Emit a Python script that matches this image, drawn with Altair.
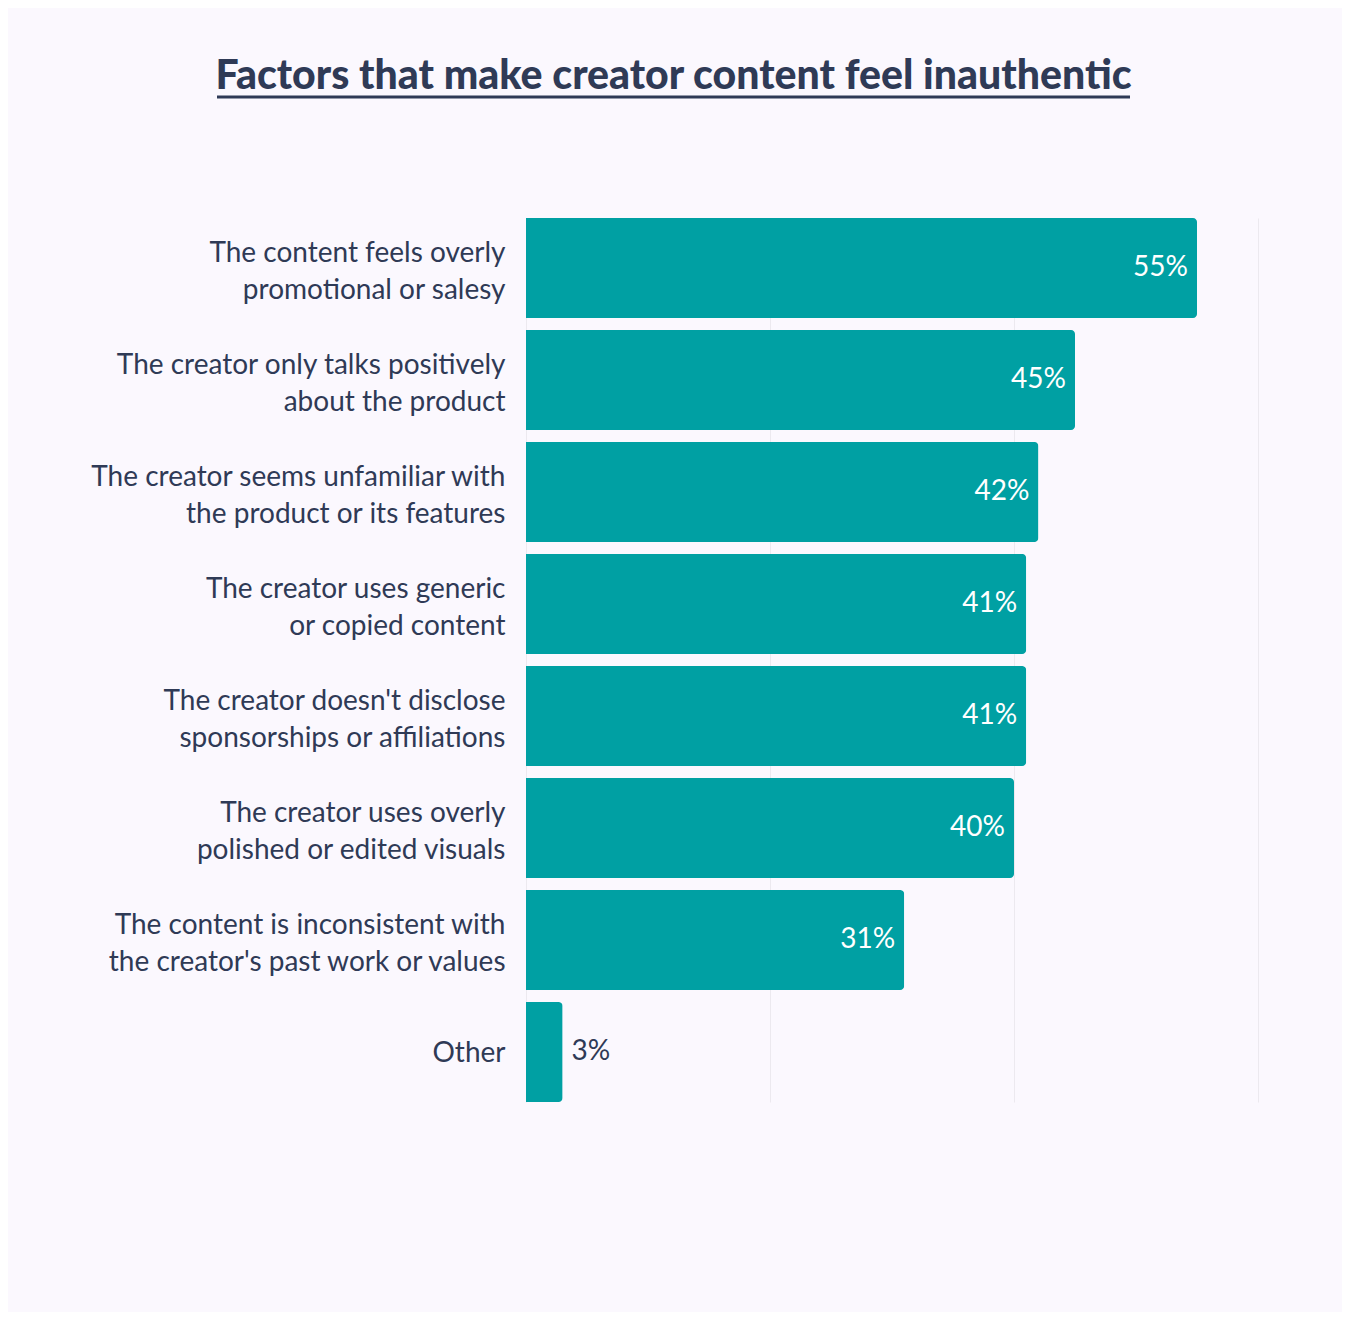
import altair as alt
import pandas as pd

categories = [
    "The content feels overly|promotional or salesy",
    "The creator only talks positively|about the product",
    "The creator seems unfamiliar with|the product or its features",
    "The creator uses generic|or copied content",
    "The creator doesn't disclose|sponsorships or affiliations",
    "The creator uses overly|polished or edited visuals",
    "The content is inconsistent with|the creator's past work or values",
    "Other",
]
values = [55, 45, 42, 41, 41, 40, 31, 3]
labels = [f"{v}%" for v in values]

df = pd.DataFrame({"cat": categories, "val": values, "lab": labels})

TEAL = "#00A0A3"
INK = "#2F3A56"
BG = "#FBF8FE"
FONT = "Lato"

y_enc = alt.Y(
    "cat:N",
    sort=None,
    scale=alt.Scale(paddingInner=0.107, paddingOuter=0),
    axis=alt.Axis(
        title=None,
        ticks=False,
        domain=False,
        labelPadding=21,
        labelFontSize=28,
        labelFont=FONT,
        labelColor=INK,
        labelLineHeight=37,
        labelLimit=500,
        labelOffset=alt.condition("indexof(datum.label, '|') >= 0", alt.value(-14), alt.value(2)),
        labelExpr="split(datum.label, '|')",
    ),
)
x_enc = alt.X(
    "val:Q",
    scale=alt.Scale(domain=[0, 60], nice=False),
    axis=alt.Axis(
        title=None,
        labels=False,
        ticks=False,
        domain=False,
        grid=True,
        values=[0, 20, 40, 60],
        gridColor="#ECE9EF",
        gridWidth=1,
    ),
)

base = alt.Chart(df)

bars = base.mark_bar(color=TEAL, cornerRadiusEnd=4).encode(x=x_enc, y=y_enc)

inside = base.transform_filter("datum.val >= 10").mark_text(
    align="right", baseline="middle", dx=-9, fontSize=28, font=FONT, color="white"
).encode(x="val:Q", y=alt.Y("cat:N", sort=None), text="lab:N")

outside = base.transform_filter("datum.val < 10").mark_text(
    align="left", baseline="middle", dx=9, fontSize=28, font=FONT, color=INK
).encode(x="val:Q", y=alt.Y("cat:N", sort=None), text="lab:N")

underline = alt.Chart(pd.DataFrame({"a": [0]})).mark_rule(
    color=INK, strokeWidth=3, clip=False
).encode(x=alt.value(-309), x2=alt.value(604), y=alt.value(-121))

chart = (
    alt.layer(bars, inside, outside, underline)
    .properties(
        width=732,
        height=884,
        autosize=alt.AutoSizeParams(type="none"),
        padding={"left": 518, "top": 210, "right": 84, "bottom": 210},
        background=BG,
        title=alt.TitleParams(
            text="Factors that make creator content feel inauthentic",
            font=FONT,
            fontSize=41,
            fontWeight=900,
            color=INK,
            anchor="middle",
            frame="bounds",
            baseline="alphabetic",
            offset=-34,
        ),
    )
    .configure_view(stroke=None)
)

chart.save("out.html", embed_options={"renderer": "svg", "actions": False})
